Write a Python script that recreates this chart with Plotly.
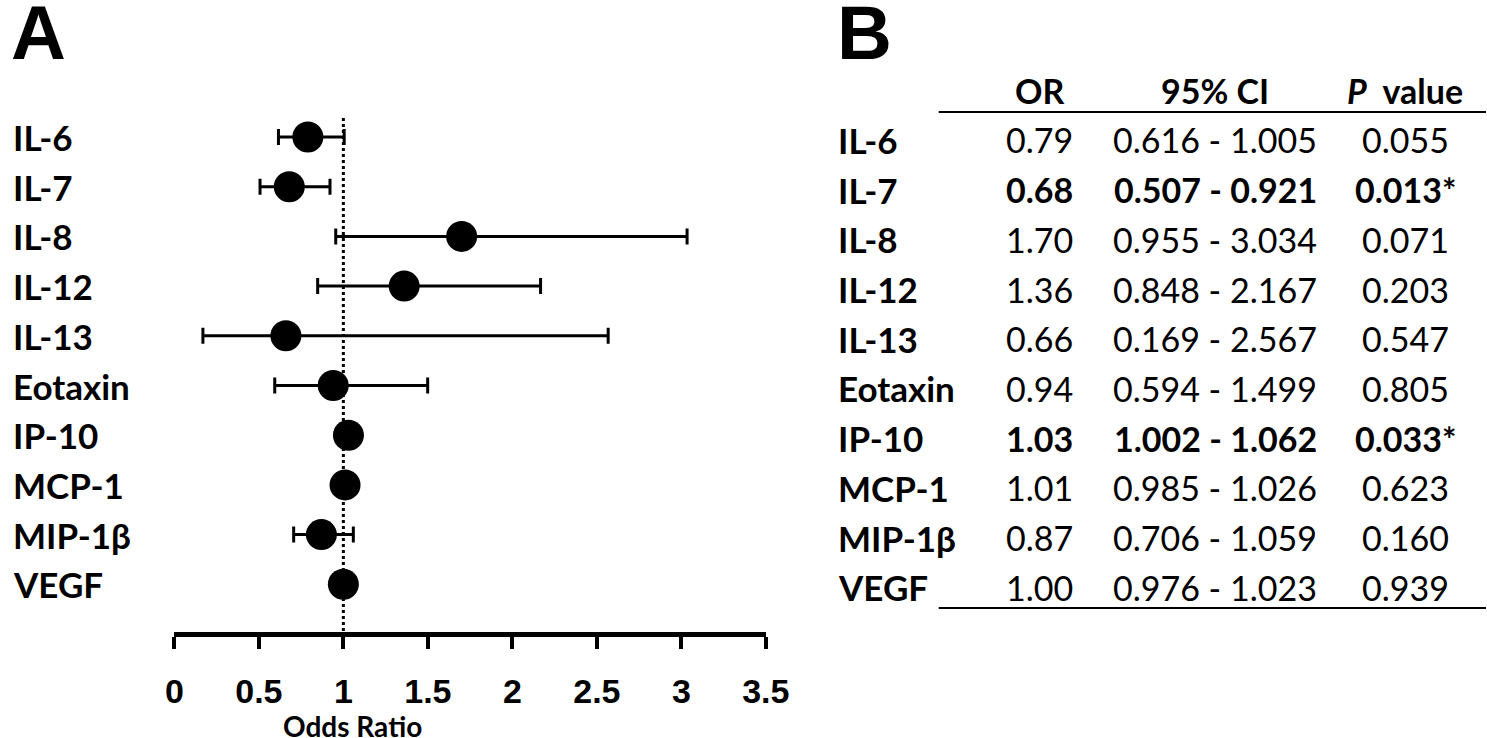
import plotly.graph_objects as go

W, H = 1510, 738
# the photographed page comes out slightly squeezed sideways: shot_x ~ 9.5 + 0.979 * page_x
SHOT_OFF, SHOT_SCALE = 9.5, 0.979

markers = ['IL-6', 'IL-7', 'IL-8', 'IL-12', 'IL-13', 'Eotaxin', 'IP-10', 'MCP-1', 'MIP-1β', 'VEGF']
odds_ratio = [0.79, 0.68, 1.70, 1.36, 0.66, 0.94, 1.03, 1.01, 0.87, 1.00]
ci_low = [0.616, 0.507, 0.955, 0.848, 0.169, 0.594, 1.002, 0.985, 0.706, 0.976]
ci_high = [1.005, 0.921, 3.034, 2.167, 2.567, 1.499, 1.062, 1.026, 1.059, 1.023]
p_values = ['0.055', '0.013*', '0.071', '0.203', '0.547', '0.805', '0.033*', '0.623', '0.160', '0.939']
significant = [False, True, False, False, False, False, True, False, False, False]
x_ticks = [0, 0.5, 1, 1.5, 2, 2.5, 3, 3.5]

label_font = 'Lato'
tick_font = 'Liberation Sans'

# target pixel in the picture -> paper fraction
def px(x):
    return min(1, max(0, (x - SHOT_OFF) / SHOT_SCALE / W))

def py(y):
    return 1 - y / H

rows = list(range(len(markers)))
row_step = 49.7
row0 = 137
axis_y = 632

fig = go.Figure()

fig.add_trace(go.Scatter(
    x=odds_ratio, y=rows, mode='markers',
    marker=dict(color='black', size=31),
    error_x=dict(type='data', symmetric=False,
                 array=[h - o for h, o in zip(ci_high, odds_ratio)],
                 arrayminus=[o - l for o, l in zip(odds_ratio, ci_low)],
                 color='black', thickness=3, width=8),
    showlegend=False, hoverinfo='skip'))

# reference line at OR = 1
fig.add_shape(type='line', xref='x', yref='y', x0=1, x1=1,
              y0=(118 - row0) / row_step, y1=(axis_y - row0) / row_step,
              line=dict(color='black', width=3, dash='dot'), layer='below')

# row labels of panel A and table B
for i, name in enumerate(markers):
    fig.add_annotation(x=px(12), y=i, xref='paper', yref='y', text=f'<b>{name}</b>',
                       showarrow=False, xanchor='left', yanchor='middle',
                       font=dict(family=label_font, size=35, color='black'))
    fig.add_annotation(x=px(837), y=i + 0.06, xref='paper', yref='y', text=f'<b>{name}</b>',
                       showarrow=False, xanchor='left', yanchor='middle',
                       font=dict(family=label_font, size=35, color='black'))
    cells = [f'{odds_ratio[i]:.2f}', f'{ci_low[i]:.3f} - {ci_high[i]:.3f}', p_values[i]]
    for cx, txt in zip([1041, 1217, 1407], cells):
        if significant[i]:
            txt = f'<b>{txt}</b>'
        fig.add_annotation(x=px(cx), y=i + 0.06, xref='paper', yref='y', text=txt,
                           showarrow=False, xanchor='center', yanchor='middle',
                           font=dict(family=label_font, size=34, color='black'))

# table header
for cx, txt in zip([1041, 1217, 1407], ['OR', '95% CI', '<i>P</i>  value']):
    fig.add_annotation(x=px(cx), y=py(90), xref='paper', yref='paper', text=f'<b>{txt}</b>',
                       showarrow=False, xanchor='center', yanchor='middle',
                       font=dict(family=label_font, size=34, color='black'))

for ly in [112, 608]:
    fig.add_shape(type='line', xref='paper', yref='paper', x0=px(940), x1=1,
                  y0=py(ly), y1=py(ly), line=dict(color='black', width=2))

# panel letters
for lx, letter in [(3, 'A'), (836, 'B')]:
    fig.add_annotation(x=px(lx), y=py(32), xref='paper', yref='paper', text=f'<b>{letter}</b>',
                       showarrow=False, xanchor='left', yanchor='middle',
                       font=dict(family='Liberation Sans', size=76, color='black'))

fig.add_annotation(x=px(353), y=py(726), xref='paper', yref='paper', text='<b>Odds Ratio</b>',
                   showarrow=False, xanchor='center', yanchor='middle',
                   font=dict(family=label_font, size=28, color='black'))

fig.update_layout(
    width=W, height=H,
    margin=dict(l=0, r=0, t=0, b=0),
    plot_bgcolor='white', paper_bgcolor='white',
    xaxis=dict(domain=[px(175), px(767)], range=[0, 3.5], tickvals=x_ticks,
               ticktext=[f'{t:g}' for t in x_ticks],
               showline=True, linecolor='black', linewidth=5, showgrid=False, zeroline=False,
               ticks='outside', ticklen=12, tickwidth=4, tickcolor='black',
               ticklabelstandoff=13,
               tickfont=dict(family=tick_font, size=34, color='black', weight='bold'),
               anchor='y'),
    yaxis=dict(domain=[py(axis_y), 1],
               range=[(axis_y - row0) / row_step, -row0 / row_step],
               visible=False, showgrid=False, zeroline=False),
)

# no page margin and no scrollbars, so the figure sits at the window's corner
fig.write_html('out.html', config={'displayModeBar': False},
               post_script="document.body.style.margin = '0'; "
                           "document.documentElement.style.overflow = 'hidden';")
